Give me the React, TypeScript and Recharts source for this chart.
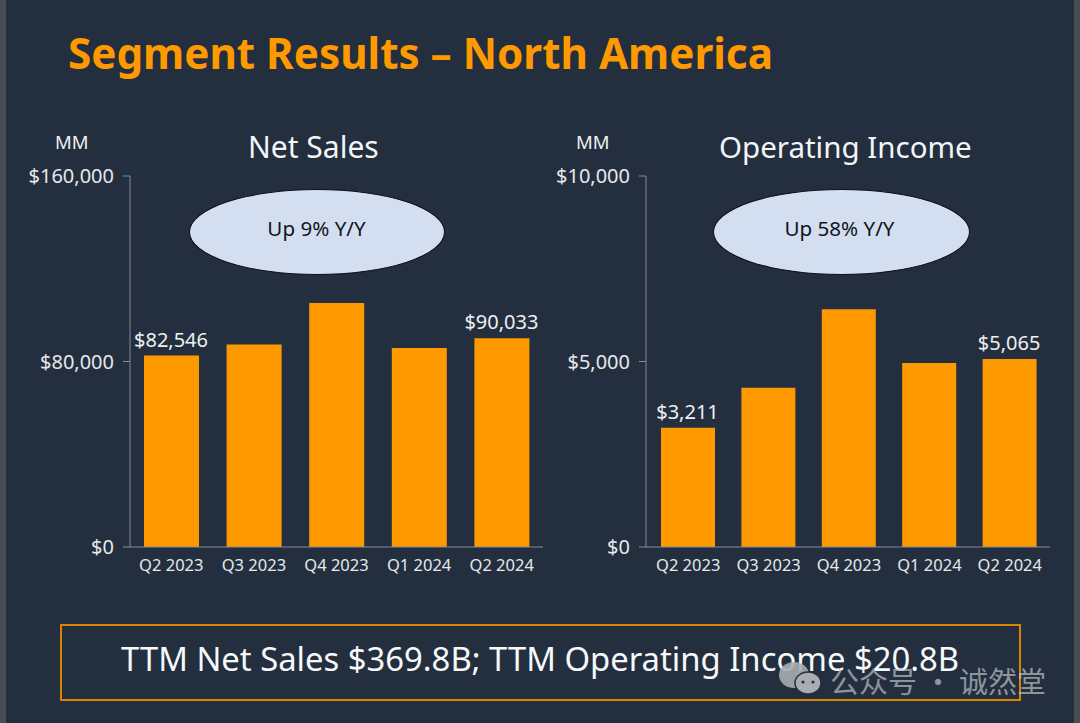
import { BarChart, Bar, XAxis, YAxis, LabelList } from 'recharts'

const quarters = ['Q2 2023', 'Q3 2023', 'Q4 2023', 'Q1 2024', 'Q2 2024']
const netSales = [82546, 87300, 105200, 85800, 90033]
const operatingIncome = [3211, 4290, 6410, 4960, 5065]
const netSalesTicks = [0, 80000, 160000]
const incomeTicks = [0, 5000, 10000]
// only the first and last bars carry a label in the slide
const labelledQuarters = ['Q2 2023', 'Q2 2024']

const FONT = '"Noto Sans", "Open Sans", sans-serif'
const BG = '#232f3f'
const ORANGE = '#ff9900'
const AXIS = '#858d97'

const money = (v: number) => `$${v.toLocaleString('en-US')}`

const toRows = (values: number[]) =>
  quarters.map((quarter, i) => ({ quarter, value: values[i] }))

type PanelProps = {
  values: number[]
  ticks: number[]
  max: number
  left: number
  width: number
  axisWidth: number
  barSize: number
  padLeft: number
}

function Panel({ values, ticks, max, left, width, axisWidth, barSize, padLeft }: PanelProps) {
  return (
    <div style={{ position: 'absolute', left, top: 140 }}>
      <BarChart
        width={width}
        height={440}
        data={toRows(values)}
        margin={{ top: 36, right: 0, bottom: 0, left: 0 }}
        barSize={barSize}
      >
        <XAxis
          dataKey="quarter"
          stroke={AXIS}
          tickLine={false}
          height={33}
          interval={0}
          padding={{ left: padLeft, right: 0 }}
          tick={{ fill: '#e6e8ea', fontSize: 16.5, fontFamily: FONT }}
          tickMargin={6}
        />
        <YAxis
          domain={[0, max]}
          ticks={ticks}
          width={axisWidth}
          stroke={AXIS}
          tickSize={7}
          tickFormatter={money}
          tick={{ fill: '#e6e8ea', fontSize: 20, fontFamily: FONT }}
          tickMargin={9}
        />
        <Bar dataKey="value" fill={ORANGE} isAnimationActive={false}>
          <LabelList
            dataKey="value"
            position="top"
            content={(props: any) => {
              const { x, y, width: w, value, index } = props
              if (!labelledQuarters.includes(quarters[index])) return null
              return (
                <text
                  x={x + w / 2 - 0.5}
                  y={y - 9}
                  textAnchor="middle"
                  fill="#eef0f2"
                  fontSize={20}
                  fontFamily={FONT}
                >
                  {money(value)}
                </text>
              )
            }}
          />
        </Bar>
      </BarChart>
    </div>
  )
}

const textAt = (left: number, top: number, size: number, color: string, weight = 400): React.CSSProperties => ({
  position: 'absolute',
  left,
  top,
  fontSize: size,
  color,
  fontWeight: weight,
  lineHeight: 1,
  whiteSpace: 'nowrap',
})

function Oval({ left, top, width, height, text, shift }: { left: number; top: number; width: number; height: number; text: string; shift: number }) {
  return (
    <div
      style={{
        position: 'absolute',
        left,
        top,
        width,
        height,
        boxSizing: 'border-box',
        paddingRight: shift,
        borderRadius: '50%',
        background: '#d3dff0',
        border: '1.5px solid #0c0f14',
        color: '#10151c',
        fontSize: 20.6,
        textAlign: 'center',
        lineHeight: `${height - 10}px`,
      }}
    >
      {text}
    </div>
  )
}

export default function App() {
  return (
    <div
      style={{
        position: 'absolute',
        left: 0,
        top: 0,
        width: 1080,
        height: 723,
        overflow: 'hidden',
        background: BG,
        fontFamily: FONT,
      }}
    >
      <div style={{ position: 'absolute', left: 0, top: 0, width: 6, height: 723, background: '#484d52' }} />
      <div style={{ position: 'absolute', right: 0, top: 0, width: 6, height: 723, background: '#484d52' }} />

      <div style={textAt(68, 32, 42.2, ORANGE, 700)}>Segment Results – North America</div>

      <div style={textAt(55, 133, 18.5, '#eef0f2')}>MM</div>
      <div style={textAt(576, 133, 18.5, '#eef0f2')}>MM</div>
      <div style={textAt(248, 132, 30, '#f4f5f6')}>Net Sales</div>
      <div style={textAt(719, 132, 29.5, '#f4f5f6')}>Operating Income</div>

      <Panel values={netSales} ticks={netSalesTicks} max={160000} left={0} width={543} axisWidth={130} barSize={55} padLeft={0} />
      <Panel values={operatingIncome} ticks={incomeTicks} max={10000} left={540} width={510} axisWidth={106} barSize={54} padLeft={2} />

      <Oval left={189} top={189} width={256} height={86} text="Up 9% Y/Y" shift={1} />
      <Oval left={713} top={189} width={257} height={86} text="Up 58% Y/Y" shift={4} />

      <div
        style={{
          position: 'absolute',
          left: 60,
          top: 624,
          width: 961,
          height: 77,
          boxSizing: 'border-box',
          border: '2px solid #d98300',
        }}
      />
      <div style={textAt(121, 643, 32.8, '#f7f8f9')}>TTM Net Sales $369.8B; TTM Operating Income $20.8B</div>

      <svg style={{ position: 'absolute', left: 778, top: 660 }} width={46} height={38}>
        <ellipse cx={16} cy={15} rx={15} ry={13} fill="#a9adb3" fillOpacity={0.9} />
        <ellipse cx={30} cy={23} rx={13} ry={11} fill="#a9adb3" stroke={BG} strokeWidth={1.5} />
        <circle cx={25} cy={22} r={1.6} fill={BG} />
        <circle cx={35} cy={22} r={1.6} fill={BG} />
      </svg>
      <div
        style={{
          ...textAt(830, 666, 29, 'rgba(190,194,199,0.7)'),
          fontFamily: '"Noto Sans CJK SC", sans-serif',
        }}
      >
        公众号 · 诚然堂
      </div>
    </div>
  )
}
